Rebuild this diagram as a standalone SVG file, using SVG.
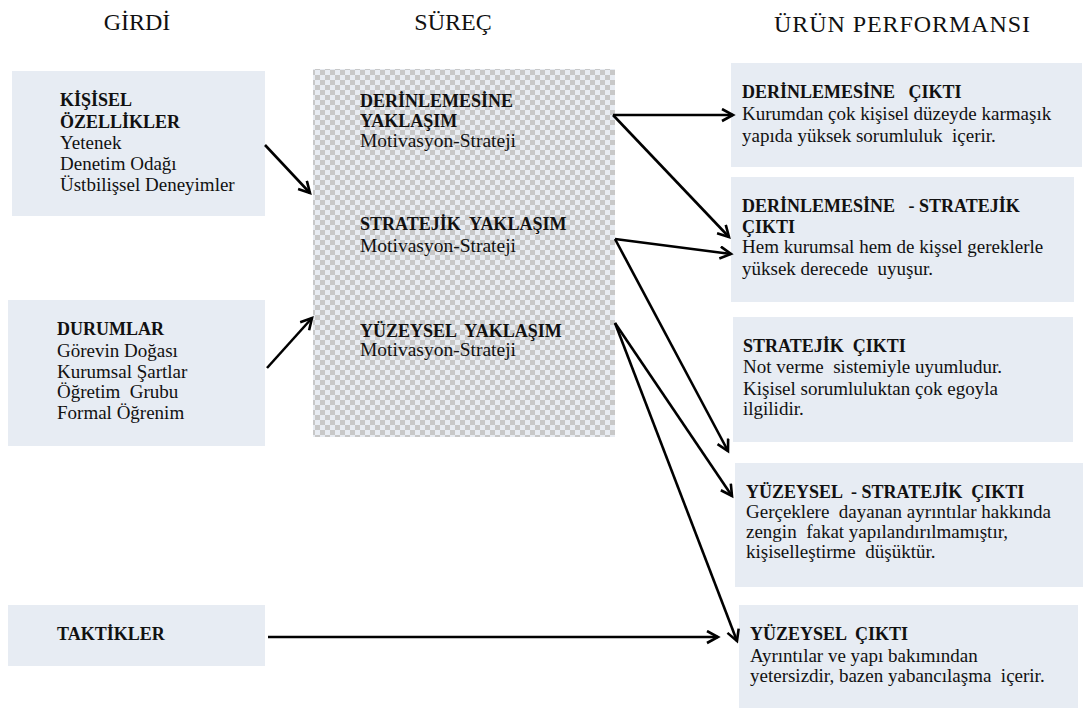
<svg xmlns="http://www.w3.org/2000/svg" width="1084" height="711" viewBox="0 0 1084 711" font-family="'Liberation Serif', 'DejaVu Serif', serif">
<style>
text{font-family:"Liberation Serif","DejaVu Serif",serif;fill:#111;white-space:pre;}
.h{font-size:24px;}
.b{font-size:18px;font-weight:bold;}
.r{font-size:19px;}
.m{font-size:19.5px;}
.box{fill:#e7ecf3;}
.ln{stroke:#000;stroke-width:2.6;fill:none;}
</style>
<defs>
<pattern id="chk" width="10" height="10" patternUnits="userSpaceOnUse">
<rect width="10" height="10" fill="#e8ecf2"/>
<rect width="5" height="5" fill="#c8c8c8"/>
<rect x="5" y="5" width="5" height="5" fill="#c8c8c8"/>
</pattern>
<marker id="ah" markerUnits="userSpaceOnUse" markerWidth="16" markerHeight="16" refX="13" refY="7" orient="auto">
<path d="M2,1 L13,7 L2,13" fill="none" stroke="#000" stroke-width="2.6"/>
</marker>
</defs>
<rect width="1084" height="711" fill="#fff"/>
<g id="headings">
<text class="h" x="137" y="30" text-anchor="middle">GİRDİ</text>
<text class="h" x="453" y="30" text-anchor="middle">SÜREÇ</text>
<text class="h" x="902" y="32" text-anchor="middle" textLength="256" lengthAdjust="spacing">ÜRÜN PERFORMANSI</text>
</g>
<g id="kisisel">
<rect class="box" x="12" y="71" width="253" height="145"/>
<text class="b" x="60" y="106">KİŞİSEL</text>
<text class="b" x="60" y="128">ÖZELLİKLER</text>
<text class="r" x="60" y="149">Yetenek</text>
<text class="r" x="60" y="170">Denetim Odağı</text>
<text class="r" x="60" y="191">Üstbilişsel Deneyimler</text>
</g>
<g id="durumlar">
<rect class="box" x="8" y="300" width="257" height="146"/>
<text class="b" x="57" y="335">DURUMLAR</text>
<text class="r" x="57" y="357">Görevin Doğası</text>
<text class="r" x="57" y="378">Kurumsal Şartlar</text>
<text class="r" x="57" y="398">Öğretim  Grubu</text>
<text class="r" x="57" y="419">Formal Öğrenim</text>
</g>
<g id="taktikler">
<rect class="box" x="8" y="605" width="257" height="61"/>
<text class="b" x="57" y="640">TAKTİKLER</text>
</g>
<g id="surec">
<rect x="313" y="69" width="302" height="368" fill="url(#chk)"/>
<text class="b" x="360" y="107">DERİNLEMESİNE</text>
<text class="b" x="360" y="127">YAKLAŞIM</text>
<text class="m" x="360" y="147">Motivasyon-Strateji</text>
<text class="b" x="360" y="230">STRATEJİK  YAKLAŞIM</text>
<text class="m" x="360" y="252">Motivasyon-Strateji</text>
<text class="b" x="360" y="337">YÜZEYSEL  YAKLAŞIM</text>
<text class="m" x="360" y="356">Motivasyon-Strateji</text>
</g>
<g id="derin-cikti">
<rect class="box" x="731" y="63" width="351" height="104"/>
<text class="b" x="742" y="98">DERİNLEMESİNE   ÇIKTI</text>
<text class="r" x="742" y="120">Kurumdan çok kişisel düzeyde karmaşık</text>
<text class="r" x="742" y="142">yapıda yüksek sorumluluk  içerir.</text>
</g>
<g id="derin-strat-cikti">
<rect class="box" x="731" y="177" width="343" height="125"/>
<text class="b" x="742" y="212">DERİNLEMESİNE   - STRATEJİK</text>
<text class="b" x="742" y="233">ÇIKTI</text>
<text class="r" x="742" y="253">Hem kurumsal hem de kişsel gereklerle</text>
<text class="r" x="742" y="275">yüksek derecede  uyuşur.</text>
</g>
<g id="strat-cikti">
<rect class="box" x="733" y="317" width="340" height="125"/>
<text class="b" x="743" y="352">STRATEJİK  ÇIKTI</text>
<text class="r" x="743" y="373">Not verme  sistemiyle uyumludur.</text>
<text class="r" x="743" y="395">Kişisel sorumluluktan çok egoyla</text>
<text class="r" x="743" y="415">ilgilidir.</text>
</g>
<g id="yuz-strat-cikti">
<rect class="box" x="735" y="463" width="348" height="124"/>
<text class="b" x="746" y="498">YÜZEYSEL  - STRATEJİK  ÇIKTI</text>
<text class="r" x="746" y="518">Gerçeklere  dayanan ayrıntılar hakkında</text>
<text class="r" x="746" y="538">zengin  fakat yapılandırılmamıştır,</text>
<text class="r" x="746" y="558">kişiselleştirme  düşüktür.</text>
</g>
<g id="yuz-cikti">
<rect class="box" x="739" y="605" width="339" height="103"/>
<text class="b" x="750" y="640">YÜZEYSEL  ÇIKTI</text>
<text class="r" x="750" y="662">Ayrıntılar ve yapı bakımından</text>
<text class="r" x="750" y="682">yetersizdir, bazen yabancılaşma  içerir.</text>
</g>
<g id="connectors">
<line class="ln" x1="265" y1="145" x2="310" y2="193" marker-end="url(#ah)"/>
<line class="ln" x1="267" y1="368" x2="312" y2="318" marker-end="url(#ah)"/>
<line class="ln" x1="613" y1="115" x2="733" y2="115" marker-end="url(#ah)"/>
<line class="ln" x1="613" y1="115" x2="729" y2="237" marker-end="url(#ah)"/>
<line class="ln" x1="615" y1="239" x2="731" y2="254" marker-end="url(#ah)"/>
<line class="ln" x1="615" y1="239" x2="728" y2="451" marker-end="url(#ah)"/>
<line class="ln" x1="615" y1="323" x2="732" y2="496" marker-end="url(#ah)"/>
<line class="ln" x1="615" y1="323" x2="737" y2="641" marker-end="url(#ah)"/>
<line class="ln" x1="268" y1="637" x2="718" y2="637" marker-end="url(#ah)"/>
</g>
</svg>
